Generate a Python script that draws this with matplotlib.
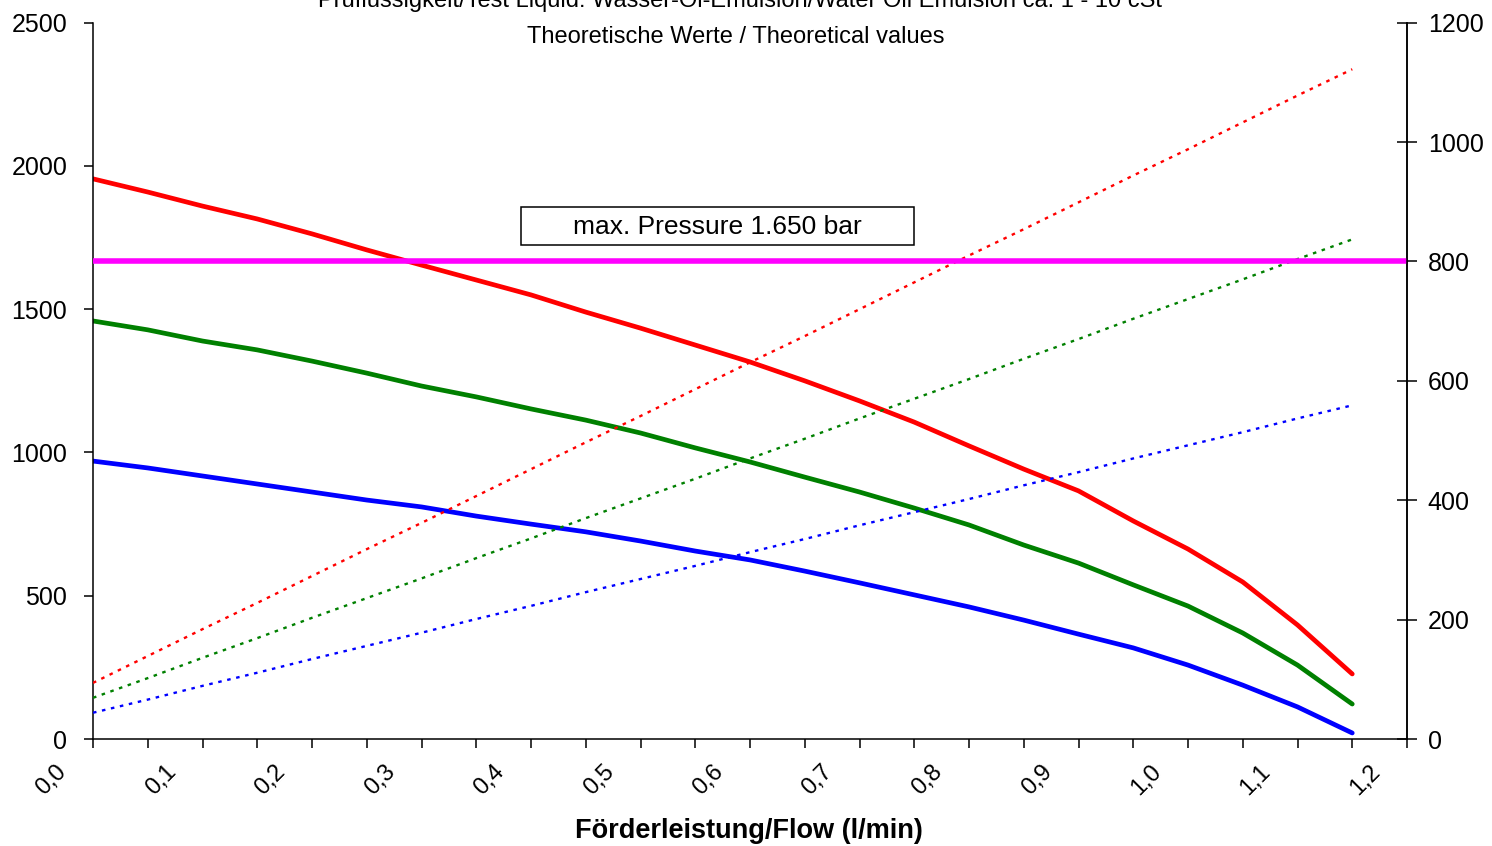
import matplotlib
matplotlib.use('Agg')
import matplotlib.pyplot as plt
from matplotlib.transforms import ScaledTranslation, blended_transform_factory
from matplotlib.patches import Rectangle

plt.rcParams['font.family'] = ['Liberation Sans', 'DejaVu Sans']

# ---- data ----
flow = [0.00, 0.05, 0.10, 0.15, 0.20, 0.25, 0.30, 0.35, 0.40, 0.45, 0.50, 0.55,
        0.60, 0.65, 0.70, 0.75, 0.80, 0.85, 0.90, 0.95, 1.00, 1.05, 1.10, 1.15]

pressure_red = [1955, 1909, 1860, 1815, 1763, 1707, 1654, 1602, 1550, 1490, 1434, 1375,
                1316, 1250, 1180, 1106, 1023, 942, 866, 761, 663, 548, 398, 227]
pressure_green = [1459, 1428, 1389, 1358, 1319, 1277, 1232, 1194, 1152, 1113, 1068, 1016,
                  967, 914, 862, 806, 747, 677, 614, 538, 464, 370, 258, 122]
pressure_blue = [970, 946, 918, 890, 862, 834, 810, 778, 750, 723, 691, 656,
                 625, 586, 545, 503, 461, 415, 366, 318, 258, 188, 112, 21]

power_red = [94, 139, 184, 228, 273, 318, 362, 407, 452, 497, 541, 586,
             631, 675, 720, 765, 810, 854, 899, 944, 988, 1033, 1078, 1122]
power_green = [69, 102, 136, 169, 203, 236, 269, 303, 336, 370, 403, 436,
               470, 503, 537, 570, 603, 637, 670, 704, 737, 770, 804, 837]
power_blue = [44, 66, 89, 111, 134, 156, 178, 201, 223, 246, 268, 290,
              313, 335, 358, 380, 402, 425, 447, 470, 492, 514, 537, 559]

max_line_value = 800  # right axis

xtick_minor = [0.00, 0.05, 0.10, 0.15, 0.20, 0.25, 0.30, 0.35, 0.40, 0.45, 0.50, 0.55, 0.60,
               0.65, 0.70, 0.75, 0.80, 0.85, 0.90, 0.95, 1.00, 1.05, 1.10, 1.15, 1.20]
xtick_pos = [0.0, 0.1, 0.2, 0.3, 0.4, 0.5, 0.6, 0.7, 0.8, 0.9, 1.0, 1.1, 1.2]
xtick_labels = ['0,0', '0,1', '0,2', '0,3', '0,4', '0,5', '0,6', '0,7', '0,8', '0,9', '1,0', '1,1', '1,2']
yleft_ticks = [0, 500, 1000, 1500, 2000, 2500]
yright_ticks = [0, 200, 400, 600, 800, 1000, 1200]

title1 = 'Prüflüssigkeit/Test Liquid: Wasser-Öl-Emulsion/Water Oil Emulsion ca. 1 - 10 cSt'
title2 = 'Theoretische Werte / Theoretical values'
xlabel = 'Förderleistung/Flow (l/min)'
box_text = 'max. Pressure 1.650 bar'

# ---- figure ----
fig = plt.figure(figsize=(14.92, 8.46), dpi=100)
ax = fig.add_axes([93/1492, 1 - 739/846, (1407 - 93)/1492, (739 - 22.7)/846])
ax2 = ax.twinx()

RED, GREEN, BLUE, MAG = '#FF0000', '#008000', '#0000FF', '#FF00FF'

kw = dict(lw=3.4, solid_capstyle='round', solid_joinstyle='round')
ax.plot(flow, pressure_red, color=RED, **kw)
ax.plot(flow, pressure_green, color=GREEN, **kw)
ax.plot(flow, pressure_blue, color=BLUE, **kw)

dot = (0, (1.5, 2.4))
ax2.plot(flow, power_red, color=RED, lw=1.7, ls=dot)
ax2.plot(flow, power_green, color=GREEN, lw=1.7, ls=dot)
ax2.plot(flow, power_blue, color=BLUE, lw=1.7, ls=dot)
ax2.axhline(max_line_value, color=MAG, lw=4)

ax.set_xlim(0, 1.2)
ax.set_ylim(0, 2500)
ax2.set_ylim(0, 1200)

ax.set_xticks(xtick_minor)
ax.set_xticklabels([])
ax.set_yticks(yleft_ticks)
ax2.set_yticks(yright_ticks)

ax.spines['top'].set_visible(False)
ax2.spines['top'].set_visible(False)
ax2.spines['left'].set_visible(False)
ax2.spines['bottom'].set_visible(False)
for s in ['left', 'bottom', 'right']:
    ax.spines[s].set_linewidth(1.1)
ax2.spines['right'].set_linewidth(1.1)

ax.tick_params(axis='y', direction='out', length=6.5, width=1.1, labelsize=18, pad=12)
ax.tick_params(axis='x', direction='out', length=6.5, width=1.1, labelbottom=False)
ax2.tick_params(axis='y', direction='inout', length=14, width=1.1, labelsize=18, pad=8)

# rotated x tick labels (Excel style offset)
trans = blended_transform_factory(ax.transData, ax.transAxes) + \
    ScaledTranslation(-0.30, -0.29, fig.dpi_scale_trans)
for xp, lab in zip(xtick_pos, xtick_labels):
    ax.text(xp, 0, lab, transform=trans, rotation=45, rotation_mode='anchor',
            ha='right', va='center', fontsize=17, clip_on=False)

fig.text(749/1492, 1 - 838/846, xlabel, ha='center', va='baseline',
         fontsize=19.5, fontweight='bold')
fig.text(740/1492, 1 - 7/846, title1, ha='center', va='baseline', fontsize=17)
fig.text(736/1492, 1 - 43/846, title2, ha='center', va='baseline', fontsize=17)

# text box
x0 = (521 - 93) / 1314
x1 = (914 - 93) / 1314
y0 = (739 - 245) / 716.3
y1 = (739 - 207) / 716.3
ax2.add_patch(Rectangle((x0, y0), x1 - x0, y1 - y0, transform=ax.transAxes,
                        fill=True, fc='white', ec='black', lw=1.1, zorder=5))
ax2.text((x0 + x1) / 2, (y0 + y1) / 2 - 0.002, box_text, transform=ax.transAxes,
         ha='center', va='center', fontsize=19, zorder=6)

fig.savefig('out.png', dpi=100)
